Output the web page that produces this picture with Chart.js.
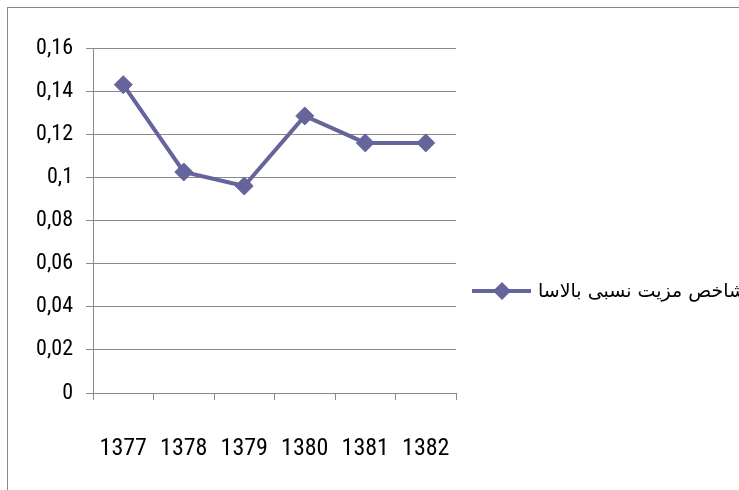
<!DOCTYPE html>
<html>
<head>
<meta charset="utf-8">
<script src="https://cdn.jsdelivr.net/npm/chart.js@4"></script>
<style>
  html, body { margin: 0; padding: 0; background: #fff; overflow: hidden; }
  #wrap { position: relative; width: 739px; height: 490px; }
  #frame { position: absolute; left: 7px; top: 7px; width: 800px; height: 600px; border: 1px solid #888; box-sizing: border-box; }
  canvas { position: absolute; left: 0; top: 0; }
</style>
</head>
<body>
<div id="wrap">
  <div id="frame"></div>
  <canvas id="chart" width="739" height="490"></canvas>
</div>
<script>
// ===== DADOS =====
const anos    = ['1377', '1378', '1379', '1380', '1381', '1382'];
const valores = [0.143, 0.1025, 0.096, 0.1285, 0.116, 0.116];
const serieNome = 'شاخص مزیت نسبی بالاسا';

const yTicks = [0, 0.02, 0.04, 0.06, 0.08, 0.1, 0.12, 0.14, 0.16];

const COR   = '#65659c';
const CINZA = '#8a8a8a';
const FONTE = "'Roboto Condensed', 'Liberation Sans Narrow', 'Liberation Sans', sans-serif";

const fmtNum = v => String(Number(v.toFixed(2))).replace('.', ',');

// ===== LEGENDA =====
const legendaPlugin = {
  id: 'legenda',
  afterDraw(chart) {
    const ctx = chart.ctx;
    const area = chart.chartArea;
    const x0 = area.right + 16;
    const y0 = 291;
    ctx.save();
    ctx.strokeStyle = COR;
    ctx.lineWidth = 4;
    ctx.beginPath();
    ctx.moveTo(x0, y0);
    ctx.lineTo(x0 + 59, y0);
    ctx.stroke();
    const cx = x0 + 30, r = 9;
    ctx.fillStyle = COR;
    ctx.beginPath();
    ctx.moveTo(cx - r, y0);
    ctx.lineTo(cx, y0 - r);
    ctx.lineTo(cx + r, y0);
    ctx.lineTo(cx, y0 + r);
    ctx.closePath();
    ctx.fill();
    ctx.fillStyle = '#000';
    ctx.font = "19px 'DejaVu Sans', sans-serif";
    ctx.direction = 'rtl';
    ctx.textAlign = 'left';
    ctx.textBaseline = 'middle';
    ctx.fillText(serieNome, x0 + 66, y0 + 1);
    ctx.restore();
  }
};

// ===== GRÁFICO =====
const ctx = document.getElementById('chart').getContext('2d');

new Chart(ctx, {
  type: 'line',
  data: {
    labels: anos,
    datasets: [{
      label: serieNome,
      data: valores,
      borderColor: COR,
      backgroundColor: COR,
      borderWidth: 4,
      pointStyle: 'rectRot',
      pointRadius: 9,
      pointBorderWidth: 1,
      pointBackgroundColor: COR,
      pointBorderColor: COR,
      tension: 0
    }]
  },
  options: {
    responsive: false,
    animation: false,
    events: [],
    layout: { padding: { top: 48, right: 283, left: 0, bottom: 0 } },
    plugins: { legend: { display: false }, tooltip: { enabled: false } },
    scales: {
      x: {
        offset: true,
        grid: { offset: true, drawOnChartArea: false, color: CINZA, tickLength: 7 },
        border: { color: CINZA },
        ticks: { color: '#000', padding: 35, font: { family: FONTE, size: 24 } },
        afterFit: s => { s.height = 97; }
      },
      y: {
        min: 0,
        max: 0.16,
        afterBuildTicks: s => { s.ticks = yTicks.map(v => ({ value: v })); },
        grid: { color: CINZA, tickLength: 7 },
        border: { color: CINZA },
        ticks: { color: '#000', padding: 13, font: { family: FONTE, size: 22 }, callback: v => fmtNum(v) },
        afterFit: s => { s.width = 93; }
      }
    }
  },
  plugins: [legendaPlugin]
});
</script>
</body>
</html>
